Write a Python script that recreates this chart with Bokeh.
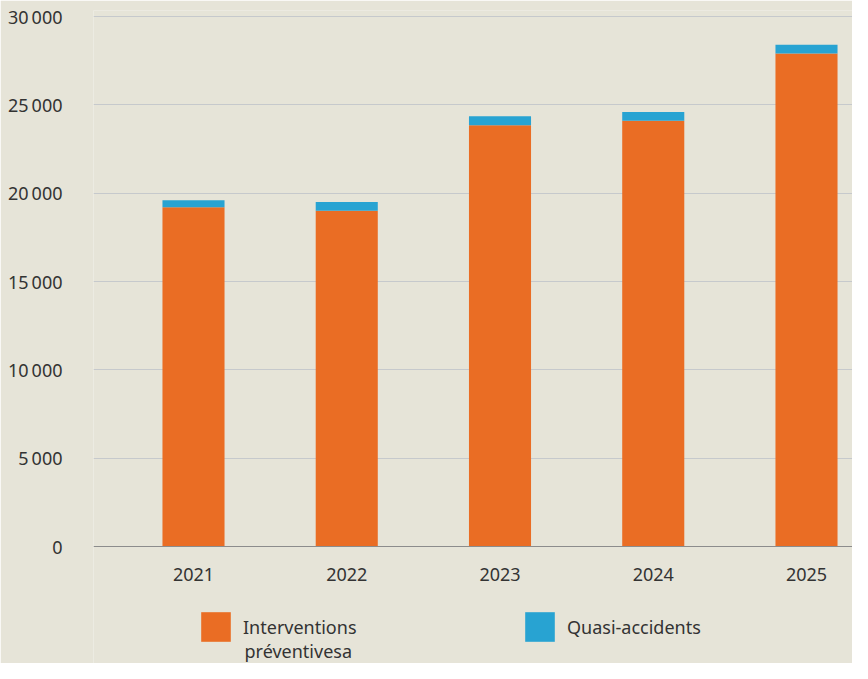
from bokeh.plotting import figure
from bokeh.models import ColumnDataSource, Range1d, Legend, LegendItem, FixedTicker, Label
from bokeh.embed import file_html
from bokeh.resources import INLINE

years = ["2021", "2022", "2023", "2024", "2025"]
preventive = [19200, 19000, 23850, 24100, 27900]
near_miss = [400, 500, 500, 500, 500]
y_ticks = [0, 5000, 10000, 15000, 20000, 25000, 30000]
y_tick_labels = ["0", "5\u202f000", "10\u202f000", "15\u202f000", "20\u202f000", "25\u202f000", "30\u202f000"]
series_names = ["Interventions", "Quasi-accidents"]
series_name_line2 = "préventivesa"

BG = "#E6E4D8"
ORANGE = "#EA6D24"
BLUE = "#28A3D2"
TEXT = "#333333"
FONT = "Noto Sans"

# layout (pixels)
W, H = 852, 663
FRAME_L, FRAME_T = 93, 10
Y0_PX, YTOP_PX = 546, 16          # pixel rows of 0 and 30000
X0_PX, X_STEP = 193, 153.25       # centre of first bar, bar spacing
per_px = 30000 / (Y0_PX - YTOP_PX)
y_end = 30000 + (YTOP_PX - FRAME_T) * per_px
y_start = -(H - Y0_PX) * per_px
x_start = (FRAME_L - X0_PX) / X_STEP
x_end = (W - X0_PX) / X_STEP

xpos = list(range(len(years)))
totals = [a + b for a, b in zip(preventive, near_miss)]
src = ColumnDataSource(dict(x=xpos, prev=preventive, tot=totals))

p = figure(width=W, height=H, output_backend="svg", toolbar_location=None,
           x_range=Range1d(x_start, x_end), y_range=Range1d(y_start, y_end),
           min_border_left=FRAME_L, min_border_right=0, min_border_top=FRAME_T, min_border_bottom=0)
p.background_fill_color = BG
p.border_fill_color = BG
p.outline_line_color = None

r1 = p.vbar(x="x", width=0.405, bottom=0, top="prev", source=src, fill_color=ORANGE, line_color=None)
r2 = p.vbar(x="x", width=0.405, bottom="prev", top="tot", source=src, fill_color=BLUE, line_color=None)

# axes
p.yaxis.ticker = FixedTicker(ticks=y_ticks)
p.yaxis.major_label_overrides = {t: l for t, l in zip(y_ticks, y_tick_labels)}
p.yaxis.axis_line_color = None
p.yaxis.major_tick_line_color = None
p.yaxis.minor_tick_line_color = None
p.yaxis.major_label_standoff = 25
p.yaxis.major_label_text_font = FONT
p.yaxis.major_label_text_font_size = "18px"
p.yaxis.major_label_text_color = TEXT

p.xaxis.fixed_location = 0
p.xaxis.ticker = FixedTicker(ticks=xpos)
p.xaxis.major_label_overrides = {i: y for i, y in zip(xpos, years)}
p.xaxis.axis_line_color = "#8C8C8C"
p.xaxis.axis_line_width = 1
p.xaxis.major_tick_line_color = None
p.xaxis.minor_tick_line_color = None
p.xaxis.major_label_standoff = 15
p.xaxis.major_label_text_font = FONT
p.xaxis.major_label_text_font_size = "18px"
p.xaxis.major_label_text_color = TEXT

p.xgrid.grid_line_color = None
p.ygrid.ticker = FixedTicker(ticks=y_ticks[1:])
p.ygrid.grid_line_color = "#C6C9CC"
p.ygrid.grid_line_width = 1

# legend (swatch ~30px = 80% of a 37px glyph box)
LEG_SWATCH_TOP = 611
glyph_box = 37
box_top = LEG_SWATCH_TOP - (glyph_box - 30) / 2
box_left = 201 - (glyph_box - 30) / 2
legend = Legend(items=[LegendItem(label=series_names[0], renderers=[r1]),
                       LegendItem(label=series_names[1], renderers=[r2])],
                orientation="horizontal",
                location=(int(round(box_left - FRAME_L)), int(round(H - (box_top + glyph_box)))),
                glyph_width=glyph_box, glyph_height=glyph_box, label_standoff=9,
                label_width=278, spacing=0, padding=0, margin=0,
                border_line_color=None, background_fill_alpha=0,
                label_text_font=FONT, label_text_font_size="18px",
                label_text_color=TEXT)
p.add_layout(legend, "center")

line2_y_px = box_top + glyph_box / 2 + 24
p.add_layout(Label(x=(244 - X0_PX) / X_STEP, y=(Y0_PX - line2_y_px) * per_px,
                   text=series_name_line2, text_font=FONT, text_font_size="18px",
                   text_color=TEXT, text_align="left", text_baseline="middle"))

open("out.html", "w").write(file_html(p, INLINE))
